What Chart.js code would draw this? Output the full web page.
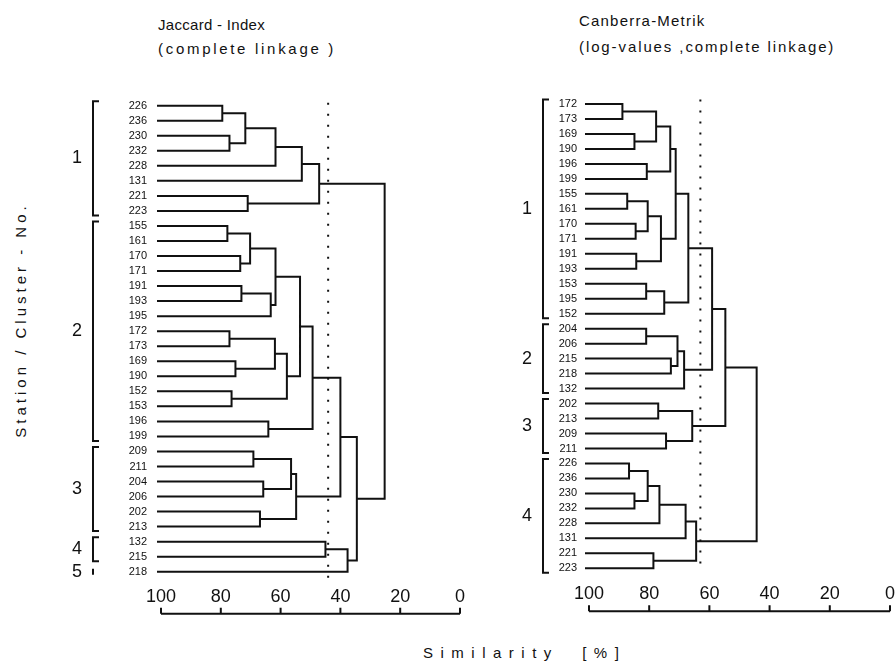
<!DOCTYPE html>
<html>
<head>
<meta charset="utf-8">
<script src="https://cdn.jsdelivr.net/npm/chart.js@4.4.1/dist/chart.umd.min.js"></script>
<style>
  body { margin: 0; background: #fff; width: 896px; height: 668px; position: relative; overflow: hidden;
         font-family: "Liberation Sans", Arial, sans-serif; color: #111; }
  canvas { position: absolute; top: 0; }
  .txt { position: absolute; white-space: pre; font-size: 15px; letter-spacing: 1.2px; line-height: 1; }
</style>
</head>
<body>
<div class="txt" style="left:158px;top:17px;letter-spacing:0.3px">Jaccard - Index</div>
<div class="txt" style="left:158px;top:41px;letter-spacing:2.7px">(complete linkage )</div>
<div class="txt" style="left:579px;top:13px">Canberra-Metrik</div>
<div class="txt" style="left:579px;top:39px;letter-spacing:1.9px">(log-values ,complete linkage)</div>
<div class="txt" style="left:423px;top:645px;letter-spacing:7.5px">Similarity  [%]</div>
<div class="txt" style="left:20px;top:320px;letter-spacing:4px;transform:translate(-50%,-50%) rotate(-90deg)">Station / Cluster - No.</div>

<canvas id="left" width="480" height="640" style="left:0"></canvas>
<canvas id="right" width="430" height="640" style="left:480px"></canvas>

<script>
// ---- Jaccard-Index (complete linkage) ----
const leftLeaves = ['226','236','230','232','228','131','221','223',
  '155','161','170','171','191','193','195','172','173','169','190','152','153','196','199',
  '209','211','204','206','202','213',
  '132','215','218'];
// merges: node ids 0..31 are leaves, each merge creates the next id (32, 33, ...)
const leftJoinA   = [0, 2, 32, 34, 35, 6, 36, 8, 10, 39, 12, 42, 41, 15, 17, 45, 19, 47, 44, 21, 50, 23, 25, 53, 27, 55, 52, 29, 59, 58, 38];
const leftJoinB   = [1, 3, 33, 4, 5, 7, 37, 9, 11, 40, 13, 14, 43, 16, 18, 46, 20, 48, 49, 22, 51, 24, 26, 54, 28, 56, 57, 30, 31, 60, 61];
const leftJoinSim = [79.5, 77.1, 71.8, 61.7, 52.9, 71.0, 47.1, 77.8, 73.5, 70.2, 73.1, 63.3, 61.7, 77.1, 75.1, 61.9, 76.4, 57.9,
  53.5, 64.1, 49.3, 69.1, 65.8, 56.5, 66.9, 54.8, 40.0, 45.0, 37.6, 34.5, 25.2];
const leftCut = 44.1;
const leftClusterNames = ['1', '2', '3', '4', '5'];
const leftClusterFirst = [0, 8, 23, 29, 31];
const leftClusterLast  = [7, 22, 28, 30, 31];

// ---- Canberra-Metrik (log-values, complete linkage) ----
const rightLeaves = ['172','173','169','190','196','199','155','161','170','171','191','193','153','195','152',
  '204','206','215','218','132',
  '202','213','209','211',
  '226','236','230','232','228','131','221','223'];
const rightJoinA   = [0, 2, 32, 4, 34, 6, 8, 37, 10, 39, 36, 12, 43, 42, 15, 17, 46, 48, 45, 20, 22, 51, 50, 24, 26, 55, 57, 58, 30, 59, 54];
const rightJoinB   = [1, 3, 33, 5, 35, 7, 9, 38, 11, 40, 41, 13, 14, 44, 16, 18, 47, 19, 49, 21, 23, 52, 53, 25, 27, 56, 28, 29, 31, 60, 61];
const rightJoinSim = [88.9, 84.9, 77.7, 80.8, 73.0, 87.3, 84.5, 80.5, 84.3, 76.1, 71.2, 81.0, 75.0, 67.0, 81.0, 72.8, 70.6, 68.4,
  59.1, 77.0, 74.4, 65.7, 54.7, 86.7, 84.9, 80.5, 76.6, 67.9, 78.6, 64.4, 44.3];
const rightCut = 63;
const rightClusterNames = ['1', '2', '3', '4'];
const rightClusterFirst = [0, 15, 20, 24];
const rightClusterLast  = [14, 19, 23, 31];

const simTicks = [100, 80, 60, 40, 20, 0];
const leafSim = 101;   // leaves start just left of 100 %

const FONT = '"Liberation Sans", Arial, sans-serif';

// build the dendrogram as one broken line: each merge is a "]" shape
function dendrogram(leaves, joinA, joinB, joinSim) {
  const nodeY = leaves.map((_, i) => i);
  const nodeX = leaves.map(() => leafSim);
  const pts = [];
  for (let k = 0; k < joinA.length; k++) {
    const a = joinA[k], b = joinB[k];
    pts.push({x: nodeX[a], y: nodeY[a]}, {x: joinSim[k], y: nodeY[a]},
             {x: joinSim[k], y: nodeY[b]}, {x: nodeX[b], y: nodeY[b]}, {x: null, y: null});
    nodeY.push((nodeY[a] + nodeY[b]) / 2);
    nodeX.push(joinSim[k]);
  }
  return pts;
}

const decor = {
  id: 'decor',
  afterDraw(chart, args, opts) {
    const {ctx, chartArea, scales: {x, y}} = chart;
    ctx.save();
    ctx.strokeStyle = '#111';
    ctx.fillStyle = '#111';
    ctx.lineWidth = 2;
    // similarity axis below the tick labels, ticks pointing up
    const ay = chartArea.bottom + opts.axisGap;
    ctx.beginPath();
    ctx.moveTo(x.getPixelForValue(100), ay);
    ctx.lineTo(x.getPixelForValue(0), ay);
    x.ticks.forEach(t => {
      const px = x.getPixelForValue(t.value);
      ctx.moveTo(px, ay);
      ctx.lineTo(px, ay - 6);
    });
    ctx.stroke();
    // cluster brackets
    ctx.font = '18px ' + FONT;
    ctx.textAlign = 'center';
    ctx.textBaseline = 'middle';
    opts.names.forEach((name, i) => {
      const bx = chartArea.left + opts.bracketX;
      const f = opts.first[i], l = opts.last[i];
      ctx.beginPath();
      let y1, y2;
      if (f === l) {
        y1 = y.getPixelForValue(f - 0.2);
        y2 = y.getPixelForValue(l + 0.2);
        ctx.moveTo(bx, y1);
        ctx.lineTo(bx, y2);
      } else {
        y1 = y.getPixelForValue(f - 0.3);
        y2 = y.getPixelForValue(l + 0.3);
        ctx.moveTo(bx + 6, y1);
        ctx.lineTo(bx, y1);
        ctx.lineTo(bx, y2);
        ctx.lineTo(bx + 6, y2);
      }
      ctx.stroke();
      ctx.fillText(name, chartArea.left + opts.numberX, (y1 + y2) / 2);
    });
    ctx.restore();
  }
};

function makeChart(id, leaves, joinA, joinB, joinSim, cut, names, first, last, geo) {
  return new Chart(document.getElementById(id), {
    type: 'scatter',
    data: {
      datasets: [{
        data: dendrogram(leaves, joinA, joinB, joinSim),
        showLine: true,
        spanGaps: false,
        borderColor: '#111',
        borderWidth: 2,
        borderCapStyle: 'square',
        pointRadius: 0,
        clip: false
      }, {
        data: [{x: cut, y: geo.cutFrom}, {x: cut, y: leaves.length - 1 + geo.cutTo}],
        showLine: true,
        borderColor: '#111',
        borderWidth: 2,
        borderDash: [2, 9],
        pointRadius: 0,
        clip: false
      }]
    },
    options: {
      responsive: false,
      animation: false,
      events: [],
      layout: { padding: geo.padding },
      plugins: {
        legend: { display: false },
        tooltip: { enabled: false },
        decor: { axisGap: geo.axisGap, bracketX: geo.bracketX, numberX: geo.numberX, names: names, first: first, last: last }
      },
      scales: {
        x: {
          type: 'linear',
          reverse: true,
          min: 0,
          max: 100,
          afterBuildTicks: s => { s.ticks = simTicks.map(v => ({value: v})); },
          afterFit: s => { s.height = 40; },
          grid: { display: false, drawTicks: false },
          border: { display: false },
          ticks: { color: '#111', padding: 15, maxRotation: 0, font: { family: FONT, size: 18 } }
        },
        y: {
          type: 'linear',
          reverse: true,
          min: 0,
          max: leaves.length - 1,
          afterBuildTicks: s => { s.ticks = leaves.map((_, i) => ({value: i})); },
          afterFit: s => { s.width = geo.yWidth; },
          grid: { display: false, drawTicks: false },
          border: { display: false },
          ticks: {
            autoSkip: false,
            color: '#111',
            padding: geo.labelPad,
            font: { family: FONT, size: 11 },
            callback: v => leaves[v]
          }
        }
      }
    },
    plugins: [decor]
  });
}

makeChart('left', leftLeaves, leftJoinA, leftJoinB, leftJoinSim, leftCut,
  leftClusterNames, leftClusterFirst, leftClusterLast,
  { padding: {left: 0, right: 15, top: 105.7, bottom: 28.3}, yWidth: 161, labelPad: 14,
    axisGap: 42, bracketX: -68, numberX: -84, cutFrom: -0.2, cutTo: 0.4 });

makeChart('right', rightLeaves, rightJoinA, rightJoinB, rightJoinSim, rightCut,
  rightClusterNames, rightClusterFirst, rightClusterLast,
  { padding: {left: 0, right: 17, top: 104, bottom: 31.7}, yWidth: 109, labelPad: 12,
    axisGap: 43, bracketX: -46, numberX: -62, cutFrom: -0.3, cutTo: 0.2 });
</script>
</body>
</html>
